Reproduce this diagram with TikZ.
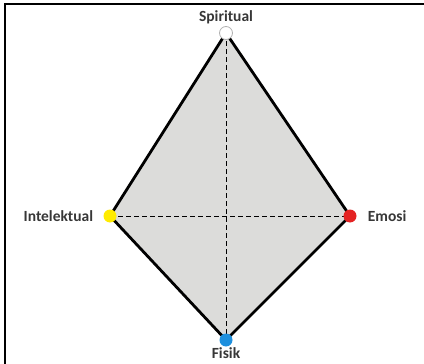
\documentclass[tikz,border=0pt]{standalone}
\usepackage{fontspec}
\setmainfont{Carlito}
\usepackage{tikz}
\usetikzlibrary{positioning,calc}
\definecolor{kiteGray}{RGB}{220,220,218}
\definecolor{dotYellow}{RGB}{255,235,0}
\definecolor{dotRed}{RGB}{228,35,35}
\definecolor{dotBlue}{RGB}{30,144,222}
\definecolor{labelGray}{RGB}{55,55,55}

\begin{document}
\begin{tikzpicture}[
      x=1pt, y=-1pt,
      corner/.style={circle, draw=none, inner sep=0pt, minimum size=13pt},
      lbl/.style={font=\fontsize{15.5}{17}\selectfont\bfseries, text=labelGray, inner sep=1pt},
      edge/.style={draw=black, line width=2.8pt, line join=round},
      axis/.style={draw=black, line width=1pt, dash pattern=on 5pt off 3pt}
    ]
      \useasboundingbox (0,0) rectangle (424,364);
      % frame
      \draw[line width=2pt] (5,440) -- (5,4) -- (440,4);
      % corners of the kite
      \coordinate (top) at (226,33);
      \coordinate (lft) at (110,216);
      \coordinate (rgt) at (350,216);
      \coordinate (bot) at (226,340);
      \fill[kiteGray] (top) -- (rgt) -- (bot) -- (lft) -- cycle;
      \draw[axis] (top) -- (bot);
      \draw[axis] (lft) -- (rgt);
      \draw[edge] (top) -- (rgt) -- (bot) -- (lft) -- cycle;
      \node[corner, fill=white, draw=black!30, line width=0.8pt] (spi) at (top) {};
      \node[corner, fill=dotYellow] (int) at (lft) {};
      \node[corner, fill=dotRed] (emo) at (rgt) {};
      \node[corner, fill=dotBlue] (fis) at (bot) {};
      % labels
      \node[lbl, above=1pt of spi] {Spiritual};
      \node[lbl, left=9pt of int] {Intelektual};
      \node[lbl, right=10pt of emo] {Emosi};
      \node[lbl, below=0pt of fis] {Fisik};
    \end{tikzpicture}
\end{document}
